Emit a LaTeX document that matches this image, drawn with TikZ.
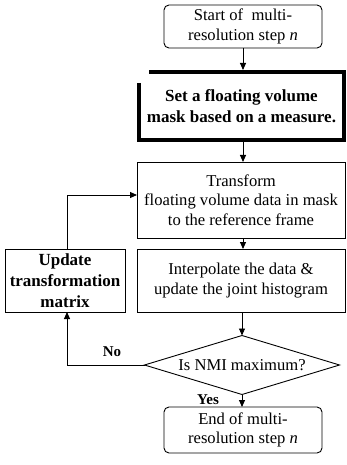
\documentclass[tikz,border=0pt]{standalone}
\usepackage{fontspec}
\setmainfont{Liberation Serif}
\usetikzlibrary{shapes.geometric,arrows.meta,positioning}

\tikzset{
  every node/.style={inner sep=0pt, outer sep=0pt},
  txt/.style={font=\fontsize{16.6}{19.5}\selectfont, align=center},
  btxt/.style={font=\fontsize{17}{21}\selectfont\bfseries, align=center},
  box/.style={draw, line width=0.9pt, txt},
  rbox/.style={box, rounded corners=5pt, minimum width=158pt},
  flow/.style={line width=0.9pt, -{Triangle[length=7pt,width=6pt]}},
  lbl/.style={font=\fontsize{15}{18}\selectfont\bfseries},
}

\begin{document}
\begin{tikzpicture}[x=1pt, y=-1pt]
  \useasboundingbox (0,0) rectangle (347,465);

  % main column
  \node[rbox, minimum height=43pt] (start) at (243,26.5)
    {Start of \ multi-\\resolution step \textit{n}};
  \node[btxt, minimum width=205pt, minimum height=68pt] (mask) at (241.5,106)
    {Set a floating volume\\mask based on a measure.};
  \node[box, minimum width=208pt, minimum height=76pt] (transform) at (241,200)
    {Transform\\floating volume data in mask\\to the reference frame};
  \node[box, minimum width=208pt, minimum height=63pt] (interp) at (241,280.5)
    {Interpolate the data \&\\update the joint histogram};
  \node[draw, line width=0.9pt, shape=diamond, shape aspect=3.3,
        minimum width=195pt, minimum height=59pt, txt] (nmi) at (242,365)
    {Is NMI maximum?};
  \node[rbox, minimum height=46pt] (end) at (243,430)
    {End of multi-\\resolution step \textit{n}};

  % feedback box
  \node[draw, line width=0.9pt, btxt, minimum width=120pt, minimum height=63pt]
    (update) at (65,280.5) {Update\\transformation\\matrix};

  % heavy frame of the mask step, open at its upper left corner
  \draw[line width=4pt, line join=miter]
    ([yshift=-11pt]mask.north west) -- (mask.south west) -- (mask.south east)
    -- (mask.north east) -- ([xshift=10pt]mask.north west);

  % connectors
  \draw[flow] (start.south -| 243,0) -- (243,70);
  \draw[flow] (243,142) -- (transform.north -| 243,0);
  \draw[flow] (transform.south -| 243,0) -- (interp.north -| 243,0);
  \draw[flow] (interp.south -| 242,0) -- (nmi.north);
  \draw[flow] (nmi.south) -- (end.north -| 242,0);
  \draw[flow] (update.north -| 67,0) |- ([yshift=5pt]transform.west);
  \draw[flow] (nmi.west) -| (update.south -| 67,0);

  % branch labels
  \node[lbl] (no) at (112,352) {No};
  \node[lbl] (yes) at (208,400) {Yes};
\end{tikzpicture}
\end{document}
